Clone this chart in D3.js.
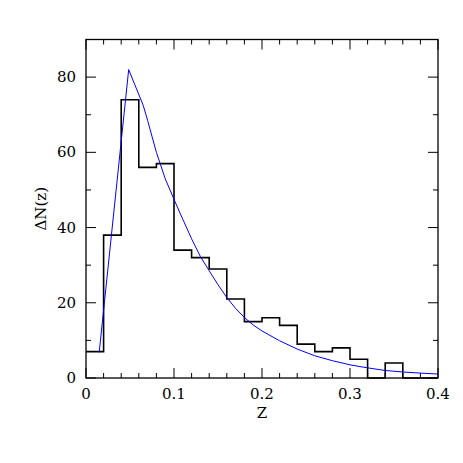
<!DOCTYPE html>
<html>
<head>
<meta charset="utf-8">
<script src="https://d3js.org/d3.v7.min.js"></script>
<style>
  body { margin: 0; background: #fff; }
  svg text { font-family: "DejaVu Serif", "Liberation Serif", serif; fill: #000; }
</style>
</head>
<body>
<script>
// Histogram: bin edges are 0.02 wide from 0 to 0.4
const binEdges = [0, 0.02, 0.04, 0.06, 0.08, 0.1, 0.12, 0.14, 0.16, 0.18, 0.2,
                  0.22, 0.24, 0.26, 0.28, 0.3, 0.32, 0.34, 0.36, 0.38, 0.4];
const binCounts = [7, 38, 74, 56, 57, 34, 32, 29, 21, 15,
                   16, 14, 9, 7, 8, 5, 0, 4, 0, 0];

// Model curve (blue)
const modelZ = [0.015, 0.0485, 0.065, 0.07, 0.08, 0.09, 0.1, 0.11, 0.12, 0.13, 0.14,
                0.15, 0.16, 0.17, 0.18, 0.19, 0.2, 0.22, 0.24, 0.26, 0.28,
                0.3, 0.32, 0.34, 0.36, 0.38, 0.4];
const modelN = [6.8, 82, 72.5, 68.5, 60, 53, 47.5, 42.2, 37, 32.3, 28.5,
                24.8, 21.4, 18.5, 16.1, 14.1, 12.5, 9.9, 7.7, 5.9, 4.6,
                3.5, 2.7, 2.0, 1.6, 1.3, 1.05];

const xTicks = [0, 0.1, 0.2, 0.3, 0.4];
const yTicks = [0, 20, 40, 60, 80];

const width = 463, height = 463;
const mLeft = 86, mRight = 438, mTop = 39.5, mBottom = 378;

const svg = d3.select("body").append("svg")
    .attr("width", width)
    .attr("height", height);

const x = d3.scaleLinear().domain([0, 0.4]).range([mLeft, mRight]);
const y = d3.scaleLinear().domain([0, 90]).range([mBottom, mTop]);

// tick marks on all four sides, pointing inward
const xMinor = d3.range(0, 0.4001, 0.02);
const yMinor = d3.range(0, 90.01, 10);

function isMajorX(v) { return Math.abs(v * 10 - Math.round(v * 10)) < 1e-6; }
function isMajorY(v) { return Math.round(v) % 20 === 0; }

const ticks = svg.append("g").attr("stroke", "#000").attr("stroke-width", 1);
xMinor.forEach(v => {
  const len = isMajorX(v) ? 10 : 5;
  ticks.append("line").attr("x1", x(v)).attr("x2", x(v)).attr("y1", mBottom).attr("y2", mBottom - len);
  ticks.append("line").attr("x1", x(v)).attr("x2", x(v)).attr("y1", mTop).attr("y2", mTop + len);
});
yMinor.forEach(v => {
  const len = isMajorY(v) ? 10 : 5;
  ticks.append("line").attr("y1", y(v)).attr("y2", y(v)).attr("x1", mLeft).attr("x2", mLeft + len);
  ticks.append("line").attr("y1", y(v)).attr("y2", y(v)).attr("x1", mRight).attr("x2", mRight - len);
});

// histogram as a step line
const steps = [];
binCounts.forEach((c, i) => {
  steps.push([binEdges[i], c]);
  steps.push([binEdges[i + 1], c]);
});
svg.append("path")
    .attr("d", d3.line().x(d => x(d[0])).y(d => y(d[1]))(steps))
    .attr("fill", "none")
    .attr("stroke", "#000")
    .attr("stroke-width", 1.6);

// model curve
svg.append("path")
    .attr("d", d3.line().x((d, i) => x(modelZ[i])).y(d => y(d))(modelN))
    .attr("fill", "none")
    .attr("stroke", "#0000ff")
    .attr("stroke-width", 1);

// frame
svg.append("rect")
    .attr("x", mLeft).attr("y", mTop)
    .attr("width", mRight - mLeft).attr("height", mBottom - mTop)
    .attr("fill", "none")
    .attr("stroke", "#000")
    .attr("stroke-width", 1.3);

// tick labels
svg.append("g").selectAll("text").data(xTicks).join("text")
    .attr("x", d => x(d))
    .attr("y", 399)
    .attr("text-anchor", "middle")
    .attr("font-size", 15)
    .text(d => d === 0 ? "0" : d3.format(".1f")(d));

svg.append("g").selectAll("text").data(yTicks).join("text")
    .attr("x", 76)
    .attr("y", d => y(d) + 5)
    .attr("text-anchor", "end")
    .attr("font-size", 15)
    .text(d => d);

// axis titles
svg.append("text")
    .attr("x", (mLeft + mRight) / 2)
    .attr("y", 418)
    .attr("text-anchor", "middle")
    .attr("font-size", 15)
    .text("Z");

svg.append("text")
    .attr("transform", `translate(46,${(mTop + mBottom) / 2}) rotate(-90)`)
    .attr("text-anchor", "middle")
    .attr("font-size", 15)
    .text("ΔN(z)");
</script>
</body>
</html>
